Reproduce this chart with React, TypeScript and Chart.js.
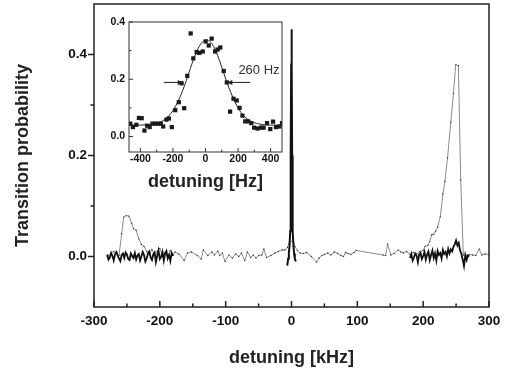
import React, { useEffect, useRef } from "react";
import { Chart, registerables } from "chart.js";
Chart.register(...registerables);

const FONT = "'Liberation Sans', Arial, Helvetica, sans-serif";

// ---------- main chart data (detuning kHz, transition probability) ----------
const grayKHz = [
  -280, -275, -270, -265, -262, -258, -255, -251, -247, -243,
  -240, -236, -232, -228, -224, -220, -216, -212, -208, -204,
  -200, -196, -192, -188, -184, -180, -177, -171, -163, -158,
  -152, -143, -137, -134, -127, -121, -117, -112, -109, -105,
  -101, -95, -90, -85, -80, -76, -71, -67, -62, -58,
  -54, -50, -45, -42, -38, -31, -25, -20, -14, -10,
  -6, -3, 3, 5, 9, 13, 18, 23, 30, 38,
  42, 46, 50, 55, 60, 65, 70, 75, 79, 82,
  86, 90, 95, 98, 139, 143, 146, 151, 156, 162,
  166, 170, 175, 180, 185, 190, 195, 200, 203, 207,
  210, 213, 216, 219, 222, 226, 230, 233, 237, 242,
  246, 249.5, 253.5, 257, 261, 265, 270, 275, 280, 285,
  289, 294, 300,
];
const grayProb = [
  0.000, 0.005, 0.010, 0.006, 0.002, 0.045, 0.078, 0.081, 0.080, 0.066,
  0.055, 0.052, 0.035, 0.024, 0.020, 0.010, 0.004, 0.014, 0.003, 0.010,
  0.016, 0.002, 0.008, -0.002, 0.012, 0.003, 0.009, 0.005, -0.008, 0.007,
  0.009, 0.002, -0.005, 0.013, 0.002, 0.009, 0.003, 0.011, 0.002, 0.007,
  -0.010, 0.003, -0.003, 0.005, 0.000, 0.007, -0.008, 0.009, -0.002, 0.003,
  -0.003, 0.002, 0.003, 0.015, -0.002, 0.002, 0.007, 0.010, 0.013, 0.013,
  0.018, 0.030, 0.030, 0.020, 0.012, 0.007, 0.006, 0.008, 0.000, -0.011,
  -0.003, 0.002, 0.004, 0.007, 0.003, 0.009, 0.006, 0.002, 0.000, 0.008,
  0.006, 0.004, 0.008, 0.012, 0.003, 0.002, 0.025, 0.003, 0.006, 0.013,
  0.009, 0.007, 0.010, 0.004, 0.008, 0.005, 0.010, 0.012, 0.020, 0.022,
  0.030, 0.043, 0.044, 0.050, 0.058, 0.079, 0.124, 0.149, 0.195, 0.266,
  0.323, 0.380, 0.378, 0.152, 0.003, 0.002, 0.004, 0.003, 0.002, 0.015,
  0.003, 0.005, 0.004,
];

// black scans, 2 kHz step
const blackLeftStart = -280;
const blackStep = 2;
const blackLeftProb = [
  0.004, -0.006, -0.002, 0.007, 0.001, -0.008, 0.005, 0.009, 0.002, -0.004,
  -0.009, 0.003, 0.006, -0.003, 0.008, 0.004, -0.005, -0.007, 0.006, 0.001,
  -0.003, 0.007, -0.006, 0.002, 0.005, -0.008, 0.000, 0.009, 0.003, -0.010,
  -0.004, 0.006, 0.010, -0.002, -0.007, 0.004, 0.008, -0.011, 0.002, 0.012,
  -0.005, -0.001, 0.009, -0.008, 0.006, 0.011, -0.004, 0.003, -0.009, 0.007,
  0.001,
];
const blackRightStart = 180;
const blackRightProb = [
  -0.003, 0.005, -0.008, -0.002, 0.006, 0.002, -0.011, 0.004, 0.007, -0.005,
  0.001, 0.009, -0.006, 0.004, 0.010, -0.007, 0.003, 0.012, -0.003, 0.006,
  -0.008, 0.011, 0.003, 0.007, -0.004, 0.013, 0.005, 0.009, 0.000, 0.015,
  0.006, 0.014, 0.010, 0.019, 0.024, 0.032, 0.022, 0.027, 0.012, 0.006,
  -0.006, -0.019, 0.003, -0.007, 0.002, 0.000,
];
const peakKHz = [-6.5, -5, -4, -3, -2, -1.5, -1, -0.5, 0, 0.5, 1, 1.5, 2, 3, 4, 5, 6.5];
const peakProb = [-0.018, -0.004, 0.008, 0.02, 0.05, 0.1, 0.2, 0.38, 0.45, 0.38, 0.2, 0.1, 0.05, 0.02, 0.006, -0.004, -0.01];

const mainXTicks = [-300, -200, -100, 0, 100, 200, 300];
const mainXMinor = [-250, -150, -50, 50, 150, 250];
const mainYTicks = [0, 0.2, 0.4];
const mainYMinor = [0.1, 0.3];

// ---------- inset data (detuning Hz) ----------
const insetHz = [
  -462, -446, -425, -409, -392, -375, -359, -343, -326, -310,
  -291, -275, -260, -240, -225, -207, -186, -164, -147, -131,
  -112, -91, -75, -54, -38, -17, 1, 20, 38, 59,
  75, 91, 112, 131, 151, 172, 192, 209, 227, 244,
  262, 281, 299, 320, 341, 357, 378, 398, 415, 433,
  454, 470,
];
const insetProb = [
  0.045, 0.033, 0.041, 0.065, 0.064, 0.021, 0.038, 0.033, 0.045, 0.045,
  0.045, 0.045, 0.035, 0.059, 0.063, 0.033, 0.092, 0.120, 0.186, 0.099,
  0.212, 0.360, 0.273, 0.295, 0.292, 0.297, 0.332, 0.318, 0.342, 0.297,
  0.304, 0.311, 0.229, 0.189, 0.087, 0.132, 0.126, 0.100, 0.073, 0.053,
  0.053, 0.047, 0.031, 0.028, 0.031, 0.031, 0.047, 0.026, 0.052, 0.033,
  0.035, 0.047,
];
const fitHz = [-470, -400, -350, -300, -275, -250, -225, -200, -175, -150, -125, -100, -75, -50, -25, 0, 25, 50, 75, 100, 125, 150, 175, 200, 225, 250, 275, 300, 350, 400, 470];
const fitProb = [0.040, 0.040, 0.042, 0.046, 0.051, 0.060, 0.073, 0.091, 0.116, 0.147, 0.184, 0.226, 0.267, 0.302, 0.326, 0.337, 0.333, 0.314, 0.282, 0.242, 0.200, 0.162, 0.128, 0.100, 0.079, 0.064, 0.054, 0.048, 0.042, 0.040, 0.040];
const insetXTicks = [-400, -200, 0, 200, 400];
const insetXMinor = [-300, -100, 100, 300];
const insetYTicks = [0, 0.2, 0.4];
const insetYMinor = [0.1, 0.3];
const fwhmLabel = "260 Hz";
const arrowLevel = 0.189;
const arrowLeft = [-256, -140];
const arrowRight = [275, 134];
const labelPos = [202, 0.232];

const pts = (xs: number[], ys: number[]) => ys.map((y, i) => ({ x: xs[i], y }));
const stepPts = (start: number, step: number, ys: number[]) => ys.map((y, i) => ({ x: start + i * step, y }));

function frameTicks(id: string, o: any) {
  return {
    id,
    afterDatasetsDraw(chart: any) {
      const { ctx, chartArea } = chart;
      const { left, right, top, bottom } = chartArea;
      const xs = chart.scales.x;
      const ys = chart.scales.y;
      ctx.save();
      ctx.strokeStyle = o.color;
      ctx.lineWidth = o.width;
      ctx.strokeRect(left, top, right - left, bottom - top);
      ctx.beginPath();
      const xt = (v: number, len: number) => {
        const p = xs.getPixelForValue(v);
        ctx.moveTo(p, bottom);
        ctx.lineTo(p, o.xInside ? bottom - len : bottom + len);
      };
      const yt = (v: number, len: number) => {
        const p = ys.getPixelForValue(v);
        ctx.moveTo(left, p);
        ctx.lineTo(o.yInside ? left + len : left - len, p);
      };
      o.xMajor.forEach((v: number) => xt(v, o.majorLen));
      o.xMinor.forEach((v: number) => xt(v, o.minorLen));
      o.yMajor.forEach((v: number) => yt(v, o.majorLen));
      o.yMinor.forEach((v: number) => yt(v, o.minorLen));
      ctx.stroke();
      ctx.restore();
    },
  };
}

const arrowPlugin = {
  id: "fwhmArrows",
  afterDatasetsDraw(chart: any) {
    const { ctx } = chart;
    const xs = chart.scales.x;
    const ys = chart.scales.y;
    const y = ys.getPixelForValue(arrowLevel);
    ctx.save();
    ctx.strokeStyle = "#222";
    ctx.fillStyle = "#222";
    ctx.lineWidth = 1;
    const arrow = (from: number, to: number) => {
      const a = xs.getPixelForValue(from);
      const b = xs.getPixelForValue(to);
      const dir = Math.sign(b - a);
      ctx.beginPath();
      ctx.moveTo(a, y);
      ctx.lineTo(b, y);
      ctx.stroke();
      ctx.beginPath();
      ctx.moveTo(b, y);
      ctx.lineTo(b - dir * 5, y - 2.5);
      ctx.lineTo(b - dir * 5, y + 2.5);
      ctx.closePath();
      ctx.fill();
    };
    arrow(arrowLeft[0], arrowLeft[1]);
    arrow(arrowRight[0], arrowRight[1]);
    ctx.font = `13px ${FONT}`;
    ctx.fillStyle = "#333";
    ctx.textAlign = "left";
    ctx.textBaseline = "middle";
    ctx.fillText(fwhmLabel, xs.getPixelForValue(labelPos[0]), ys.getPixelForValue(labelPos[1]));
    ctx.restore();
  },
};

const zeroPad = (s: any) => {
  s.paddingTop = 0;
  s.paddingBottom = 0;
  s.paddingLeft = 0;
  s.paddingRight = 0;
};

function mainConfig(): any {
  return {
    type: "line",
    data: {
      datasets: [
        { data: stepPts(blackLeftStart, blackStep, blackLeftProb), borderColor: "#111", borderWidth: 1.8, pointRadius: 0, order: 1 },
        { data: pts(peakKHz, peakProb), borderColor: "#111", borderWidth: 2, pointRadius: 0, order: 1 },
        { data: stepPts(blackRightStart, blackStep, blackRightProb), borderColor: "#111", borderWidth: 1.8, pointRadius: 0, order: 1 },
        {
          data: pts(grayKHz, grayProb), borderColor: "#8c8c8c", borderWidth: 1,
          pointRadius: 0.7, pointBackgroundColor: "#333", pointBorderWidth: 0, order: 2,
        },
      ],
    },
    options: {
      responsive: false,
      animation: false,
      events: [],
      layout: { autoPadding: false, padding: { left: 0, right: 16, top: 4, bottom: 0 } },
      plugins: { legend: { display: false }, tooltip: { enabled: false } },
      scales: {
        x: {
          type: "linear", min: -300, max: 300,
          afterBuildTicks: (s: any) => { s.ticks = mainXTicks.map((v) => ({ value: v })); },
          afterFit: (s: any) => { s.height = 64; zeroPad(s); },
          grid: { display: false, drawTicks: false },
          border: { display: false },
          ticks: { font: { family: FONT, size: 13.5, weight: "bold" }, color: "#111", padding: 6, maxRotation: 0, autoSkip: false, callback: (v: any) => String(v) },
          title: { display: true, text: "detuning [kHz]", font: { family: FONT, size: 18, weight: "bold" }, color: "#222", padding: { top: 0, bottom: 2 } },
        },
        y: {
          type: "linear", min: -0.1, max: 0.5,
          afterBuildTicks: (s: any) => { s.ticks = mainYTicks.map((v) => ({ value: v })); },
          afterFit: (s: any) => { s.width = 94; zeroPad(s); },
          grid: { display: false, drawTicks: false },
          border: { display: false },
          ticks: { font: { family: FONT, size: 13.5, weight: "bold" }, color: "#111", padding: 7, callback: (v: any) => Number(v).toFixed(1) },
          title: { display: true, text: "Transition probability", font: { family: FONT, size: 18, weight: "bold" }, color: "#222", padding: { top: 12, bottom: 0 } },
        },
      },
    },
    plugins: [frameTicks("mainFrame", { xMajor: mainXTicks, xMinor: mainXMinor, yMajor: mainYTicks, yMinor: mainYMinor, xInside: true, yInside: false, majorLen: 6, minorLen: 3.5, width: 1.5, color: "#222" })],
  };
}

function insetConfig(): any {
  return {
    type: "line",
    data: {
      datasets: [
        {
          data: pts(insetHz, insetProb), showLine: false, pointStyle: "rect", pointRadius: 3,
          pointBackgroundColor: "#1a1a1a", pointBorderWidth: 0, borderColor: "#1a1a1a", order: 1,
        },
        { data: pts(fitHz, fitProb), borderColor: "#222", borderWidth: 1, pointRadius: 0, tension: 0.4, order: 2 },
      ],
    },
    options: {
      responsive: false,
      animation: false,
      events: [],
      layout: { autoPadding: false, padding: { left: 0, right: 6, top: 14, bottom: 0 } },
      plugins: { legend: { display: false }, tooltip: { enabled: false } },
      scales: {
        x: {
          type: "linear", min: -470, max: 470,
          afterBuildTicks: (s: any) => { s.ticks = insetXTicks.map((v) => ({ value: v })); },
          afterFit: (s: any) => { s.height = 48; zeroPad(s); },
          grid: { display: false, drawTicks: false },
          border: { display: false },
          ticks: { font: { family: FONT, size: 10.5, weight: "bold" }, color: "#111", padding: 1, maxRotation: 0, autoSkip: false, callback: (v: any) => String(v) },
          title: { display: true, text: "detuning [Hz]", font: { family: FONT, size: 18, weight: "bold" }, color: "#222", padding: { top: 0, bottom: 7 } },
        },
        y: {
          type: "linear", min: -0.054, max: 0.4,
          afterBuildTicks: (s: any) => { s.ticks = insetYTicks.map((v) => ({ value: v })); },
          afterFit: (s: any) => { s.width = 33; zeroPad(s); },
          grid: { display: false, drawTicks: false },
          border: { display: false },
          ticks: { font: { family: FONT, size: 10.5, weight: "bold" }, color: "#111", padding: 4, callback: (v: any) => Number(v).toFixed(1) },
        },
      },
    },
    plugins: [
      frameTicks("insetFrame", { xMajor: insetXTicks, xMinor: insetXMinor, yMajor: insetYTicks, yMinor: insetYMinor, xInside: true, yInside: true, majorLen: 4, minorLen: 2.5, width: 1, color: "#333" }),
      arrowPlugin,
    ],
  };
}

export default function App() {
  const mainRef = useRef<HTMLCanvasElement>(null);
  const insetRef = useRef<HTMLCanvasElement>(null);
  useEffect(() => {
    const main = new Chart(mainRef.current as HTMLCanvasElement, mainConfig());
    const inset = new Chart(insetRef.current as HTMLCanvasElement, insetConfig());
    return () => {
      main.destroy();
      inset.destroy();
    };
  }, []);
  return (
    <div style={{ position: "absolute", left: 0, top: 0, width: 505, height: 371, background: "#fff" }}>
      <canvas ref={mainRef} width={505} height={371} style={{ position: "absolute", left: 0, top: 0, width: 505, height: 371 }} />
      <canvas ref={insetRef} width={192} height={192} style={{ position: "absolute", left: 96, top: 8, width: 192, height: 192 }} />
    </div>
  );
}
